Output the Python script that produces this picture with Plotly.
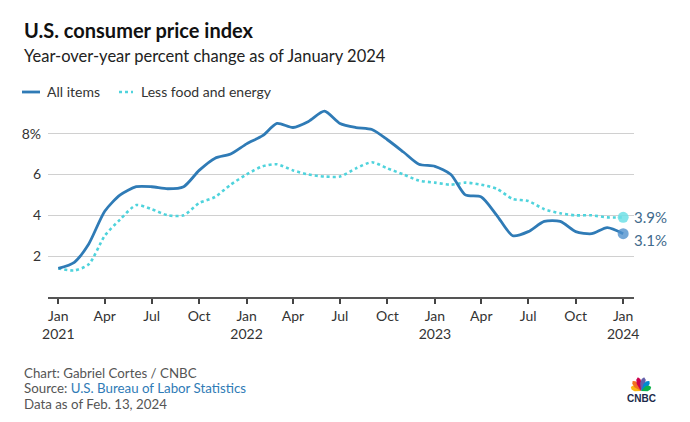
import math
import plotly.graph_objects as go
import pandas as pd

# ---- data ----
months = pd.date_range("2021-01-01", "2024-01-01", freq="MS")
all_items = [1.4, 1.7, 2.6, 4.2, 5.0, 5.4, 5.4, 5.3, 5.4, 6.2, 6.8, 7.0,
             7.5, 7.9, 8.5, 8.3, 8.6, 9.1, 8.5, 8.3, 8.2, 7.7, 7.1, 6.5,
             6.4, 6.0, 5.0, 4.9, 4.0, 3.0, 3.2, 3.7, 3.7, 3.2, 3.1, 3.4,
             3.1]
core = [1.4, 1.3, 1.6, 3.0, 3.8, 4.5, 4.3, 4.0, 4.0, 4.6, 4.9, 5.5,
        6.0, 6.4, 6.5, 6.2, 6.0, 5.9, 5.9, 6.3, 6.6, 6.3, 6.0, 5.7,
        5.6, 5.5, 5.6, 5.5, 5.3, 4.8, 4.7, 4.3, 4.1, 4.0, 4.0, 3.9,
        3.9]
x_tick_vals = ["2021-01-01", "2021-04-01", "2021-07-01", "2021-10-01",
               "2022-01-01", "2022-04-01", "2022-07-01", "2022-10-01",
               "2023-01-01", "2023-04-01", "2023-07-01", "2023-10-01",
               "2024-01-01"]
x_tick_text = ["Jan<br>2021", "Apr", "Jul", "Oct", "Jan<br>2022", "Apr", "Jul",
               "Oct", "Jan<br>2023", "Apr", "Jul", "Oct", "Jan<br>2024"]
y_tick_vals = [2, 4, 6, 8]
y_tick_text = ["2", "4", "6", "8%"]

BLUE = "#2f7bb6"
CYAN = "#4fd3dc"
LABEL = "#416a8c"
FONT = "Lato, Open Sans, sans-serif"

OFF = 8  # page body margin
W, H = 690 - OFF, 422 - OFF
# plot area, in screenshot pixels
SL, SR, ST, SB = 48, 634, 103, 297
L, R, T, B = SL - OFF, SR - OFF, ST - OFF, SB - OFF


def px(x):  # screenshot x -> paper
    return (x - OFF - L) / (R - L)


def py(y):  # screenshot y -> paper
    return (B - (y - OFF)) / (B - T)


fig = go.Figure()
fig.add_trace(go.Scatter(x=months, y=core, mode="lines", name="Less food and energy",
                         line=dict(color=CYAN, width=2.6, dash="dot", shape="spline", smoothing=0.7),
                         hoverinfo="skip"))
fig.add_trace(go.Scatter(x=months, y=all_items, mode="lines", name="All items",
                         line=dict(color=BLUE, width=2.8, shape="spline", smoothing=0.7),
                         hoverinfo="skip"))
# end markers
fig.add_trace(go.Scatter(x=[months[-1]], y=[core[-1]], mode="markers",
                         marker=dict(size=11, color="rgba(110,224,230,0.85)"), hoverinfo="skip"))
fig.add_trace(go.Scatter(x=[months[-1]], y=[all_items[-1]], mode="markers",
                         marker=dict(size=11, color="rgba(80,145,205,0.8)"), hoverinfo="skip"))

annotations = [
    dict(text="<b>U.S. consumer price index</b>", x=px(22), y=py(30), xanchor="left", yanchor="middle",
         font=dict(size=20, color="#111", family=FONT)),
    dict(text="Year-over-year percent change as of January 2024", x=px(22), y=py(56), xanchor="left",
         yanchor="middle", font=dict(size=16.5, color="#222", family=FONT)),
    dict(text="All items", x=px(45), y=py(91), xanchor="left", yanchor="middle",
         font=dict(size=14, color="#333", family=FONT)),
    dict(text="Less food and energy", x=px(139), y=py(91), xanchor="left", yanchor="middle",
         font=dict(size=14, color="#333", family=FONT)),
    dict(text=f"{core[-1]}%", x=px(632), y=py(217), xanchor="left", yanchor="middle",
         font=dict(size=15, color=LABEL, family=FONT)),
    dict(text=f"{all_items[-1]}%", x=px(632), y=py(240), xanchor="left", yanchor="middle",
         font=dict(size=15, color=LABEL, family=FONT)),
    dict(text="Chart: Gabriel Cortes / CNBC", x=px(22), y=py(373), xanchor="left", yanchor="middle",
         font=dict(size=13.3, color="#555", family=FONT)),
    dict(text="Source: <span style='color:#2f7bb6'>U.S. Bureau of Labor Statistics</span>", x=px(22),
         y=py(388), xanchor="left", yanchor="middle", font=dict(size=13.3, color="#555", family=FONT)),
    dict(text="Data as of Feb. 13, 2024", x=px(22), y=py(404), xanchor="left", yanchor="middle",
         font=dict(size=13.3, color="#555", family=FONT)),
    dict(text="<b>CNBC</b>", x=px(641), y=py(398), xanchor="center", yanchor="middle",
         font=dict(size=10, color="#1b2a4a", family="Liberation Sans, Arial, sans-serif")),
]
for a in annotations:
    a.update(xref="paper", yref="paper", showarrow=False)

shapes = [
    dict(type="line", x0=px(22), x1=px(40), y0=py(92), y1=py(92), line=dict(color=BLUE, width=2.8)),
    dict(type="line", x0=px(119), x1=px(133), y0=py(92), y1=py(92), line=dict(color=CYAN, width=2.6, dash="dot")),
]
# CNBC peacock logo (decorative)
feather_colors = ["#FCB711", "#F37021", "#CC004C", "#6460AA", "#0089D0", "#0DB14B"]
bx, by = 641, 391
angles = [-68, -40, -13, 13, 40, 68]
lens = [11, 13, 14, 14, 13, 11]
for c, ang, ln in zip(feather_colors, angles, lens):
    a = math.radians(ang)
    tx, ty = bx + ln * math.sin(a), by - ln * math.cos(a)
    nx, ny = math.cos(a), math.sin(a)
    wdt = 2.6
    p1 = (bx + 0.55 * ln * math.sin(a) + nx * wdt, by - 0.55 * ln * math.cos(a) + ny * wdt)
    p2 = (bx + 0.85 * ln * math.sin(a) + nx * wdt * 0.8, by - 0.85 * ln * math.cos(a) + ny * wdt * 0.8)
    p3 = (bx + 0.85 * ln * math.sin(a) - nx * wdt * 0.8, by - 0.85 * ln * math.cos(a) - ny * wdt * 0.8)
    p4 = (bx + 0.55 * ln * math.sin(a) - nx * wdt, by - 0.55 * ln * math.cos(a) - ny * wdt)
    pts = [(bx, by), p1, p2, (tx, ty), p3, p4]
    path = "M " + " L ".join(f"{px(p[0])},{py(p[1])}" for p in pts) + " Z"
    shapes.append(dict(type="path", path=path, fillcolor=c, line=dict(width=0)))
for s in shapes:
    s.setdefault("xref", "paper")
    s.setdefault("yref", "paper")

fig.update_layout(
    width=W, height=H,
    margin=dict(l=L, r=W - R, t=T, b=H - B, pad=0),
    paper_bgcolor="white", plot_bgcolor="white",
    showlegend=False,
    font=dict(family=FONT, color="#333"),
    annotations=annotations,
    shapes=shapes,
    xaxis=dict(
        range=["2020-12-12", "2024-01-22"],
        tickvals=x_tick_vals, ticktext=x_tick_text,
        showgrid=False, showline=True, linecolor="#555", linewidth=2,
        ticks="outside", ticklen=5, tickwidth=1.5, tickcolor="#444",
        tickfont=dict(size=14, color="#333", family=FONT),
        zeroline=False, fixedrange=True,
    ),
    yaxis=dict(
        range=[0, 9.5],
        tickvals=y_tick_vals, ticktext=y_tick_text,
        showgrid=True, gridcolor="#d0d0d0", gridwidth=1,
        showline=False, zeroline=False, ticks="",
        ticklabelstandoff=6,
        tickfont=dict(size=14, color="#333", family=FONT),
        fixedrange=True,
    ),
)
fig.write_html("out.html")
